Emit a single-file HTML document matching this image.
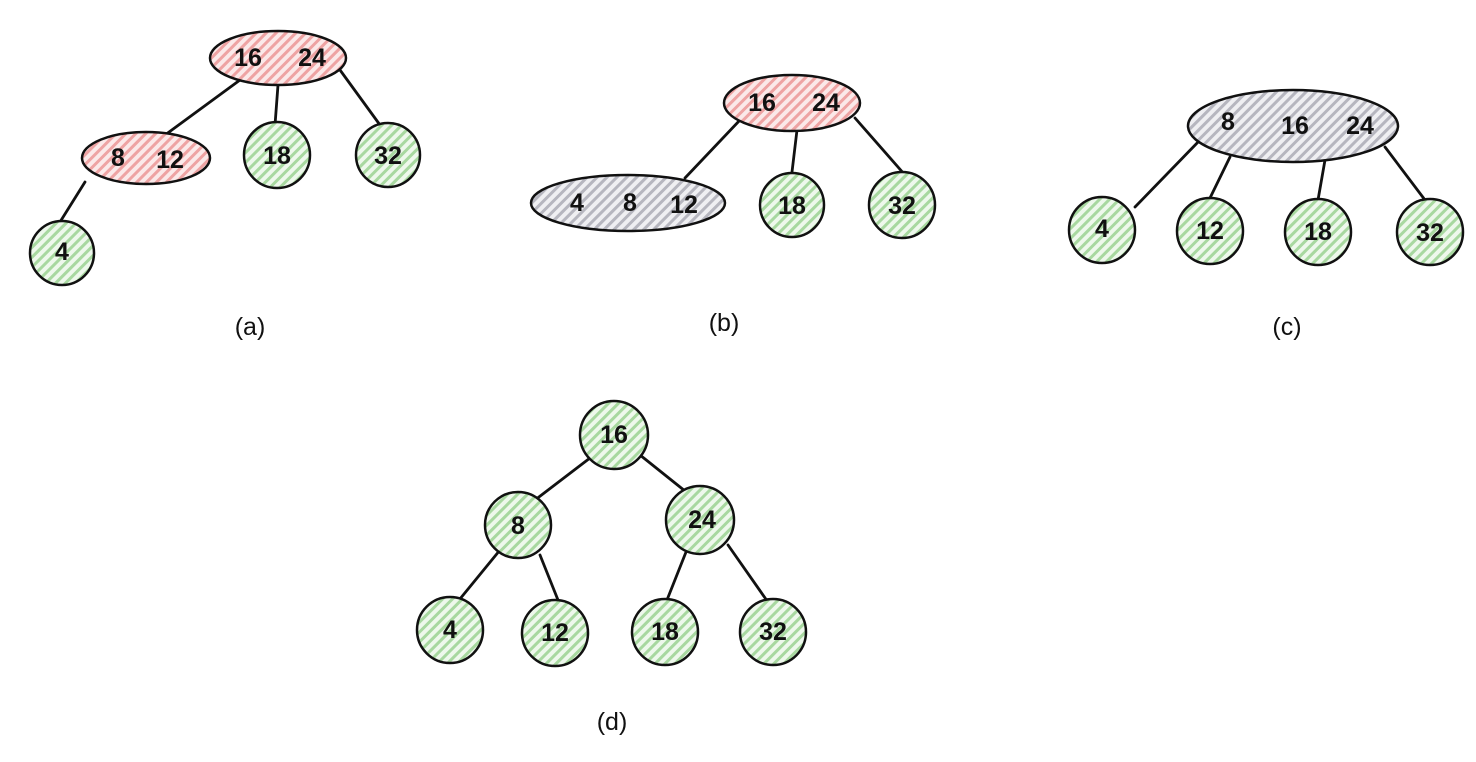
<!DOCTYPE html>
<html><head><meta charset="utf-8"><style>
html,body{margin:0;padding:0;background:#fff;}
svg{display:block;}
text{font-family:"Liberation Sans",sans-serif;font-size:25px;font-weight:bold;fill:#111;text-anchor:middle;dominant-baseline:central;}
</style></head><body>
<svg width="1476" height="762" viewBox="0 0 1476 762">
<defs>
<pattern id="r" width="7" height="7" patternUnits="userSpaceOnUse" patternTransform="rotate(45)"><rect width="7" height="7" fill="#fbe9e9"/><rect width="3" height="7" fill="#eea3a3"/></pattern>
<pattern id="g" width="7" height="7" patternUnits="userSpaceOnUse" patternTransform="rotate(45)"><rect width="7" height="7" fill="#eef8ec"/><rect width="3" height="7" fill="#a8d8a0"/></pattern>
<pattern id="k" width="7" height="7" patternUnits="userSpaceOnUse" patternTransform="rotate(45)"><rect width="7" height="7" fill="#efeff2"/><rect width="3" height="7" fill="#b6b6bf"/></pattern>
</defs>
<g stroke="#111" stroke-width="2.8" fill="none" stroke-linecap="round">
<line x1="240" y1="80" x2="165" y2="135"/><line x1="278" y1="85" x2="275" y2="125"/><line x1="340" y1="70" x2="380" y2="125"/><line x1="85" y1="182" x2="60" y2="222"/>
<line x1="740" y1="120" x2="685" y2="178"/><line x1="797" y1="130" x2="792" y2="172"/><line x1="855" y1="118" x2="905" y2="175"/>
<line x1="1200" y1="140" x2="1135" y2="207"/><line x1="1230" y1="157" x2="1210" y2="198"/><line x1="1325" y1="160" x2="1318" y2="200"/><line x1="1385" y1="147" x2="1425" y2="200"/>
<line x1="590" y1="458" x2="535" y2="500"/><line x1="640" y1="455" x2="690" y2="495"/><line x1="500" y1="550" x2="455" y2="605"/><line x1="540" y1="555" x2="560" y2="605"/><line x1="688" y1="547" x2="665" y2="605"/><line x1="728" y1="545" x2="770" y2="605"/>
</g>
<g stroke="#111" stroke-width="2.5">
<ellipse cx="278" cy="58" rx="68" ry="27" fill="url(#r)"/>
<ellipse cx="146" cy="158" rx="64" ry="26" fill="url(#r)"/>
<circle cx="277" cy="155" r="33" fill="url(#g)"/>
<circle cx="388" cy="155" r="32" fill="url(#g)"/>
<circle cx="62" cy="253" r="32" fill="url(#g)"/>
<ellipse cx="792" cy="103" rx="68" ry="28" fill="url(#r)"/>
<ellipse cx="628" cy="203" rx="97" ry="28" fill="url(#k)"/>
<circle cx="792" cy="205" r="32" fill="url(#g)"/>
<circle cx="902" cy="205" r="33" fill="url(#g)"/>
<ellipse cx="1293" cy="126" rx="105" ry="36" fill="url(#k)"/>
<circle cx="1102" cy="230" r="33" fill="url(#g)"/>
<circle cx="1210" cy="231" r="33" fill="url(#g)"/>
<circle cx="1318" cy="232" r="33" fill="url(#g)"/>
<circle cx="1430" cy="232" r="33" fill="url(#g)"/>
<circle cx="614" cy="435" r="34" fill="url(#g)"/>
<circle cx="518" cy="525" r="33" fill="url(#g)"/>
<circle cx="700" cy="520" r="34" fill="url(#g)"/>
<circle cx="450" cy="630" r="33" fill="url(#g)"/>
<circle cx="555" cy="633" r="33" fill="url(#g)"/>
<circle cx="665" cy="632" r="33" fill="url(#g)"/>
<circle cx="773" cy="632" r="33" fill="url(#g)"/>
</g>
<text x="248" y="58">16</text><text x="312" y="58">24</text>
<text x="118" y="158">8</text><text x="170" y="160">12</text>
<text x="277" y="156">18</text><text x="388" y="156">32</text><text x="62" y="252">4</text>
<text x="762" y="103">16</text><text x="826" y="103">24</text>
<text x="577" y="203">4</text><text x="630" y="203">8</text><text x="684" y="205">12</text>
<text x="792" y="206">18</text><text x="902" y="206">32</text>
<text x="1228" y="122">8</text><text x="1295" y="126">16</text><text x="1360" y="126">24</text>
<text x="1102" y="229">4</text><text x="1210" y="231">12</text><text x="1318" y="232">18</text><text x="1430" y="233">32</text>
<text x="614" y="435">16</text><text x="518" y="526">8</text><text x="702" y="520">24</text>
<text x="450" y="630">4</text><text x="555" y="633">12</text><text x="665" y="632">18</text><text x="773" y="632">32</text>
<text x="250" y="327" style="font-weight:normal">(a)</text>
<text x="724" y="323" style="font-weight:normal">(b)</text>
<text x="1287" y="327" style="font-weight:normal">(c)</text>
<text x="612" y="722" style="font-weight:normal">(d)</text>
</svg>
</body></html>
